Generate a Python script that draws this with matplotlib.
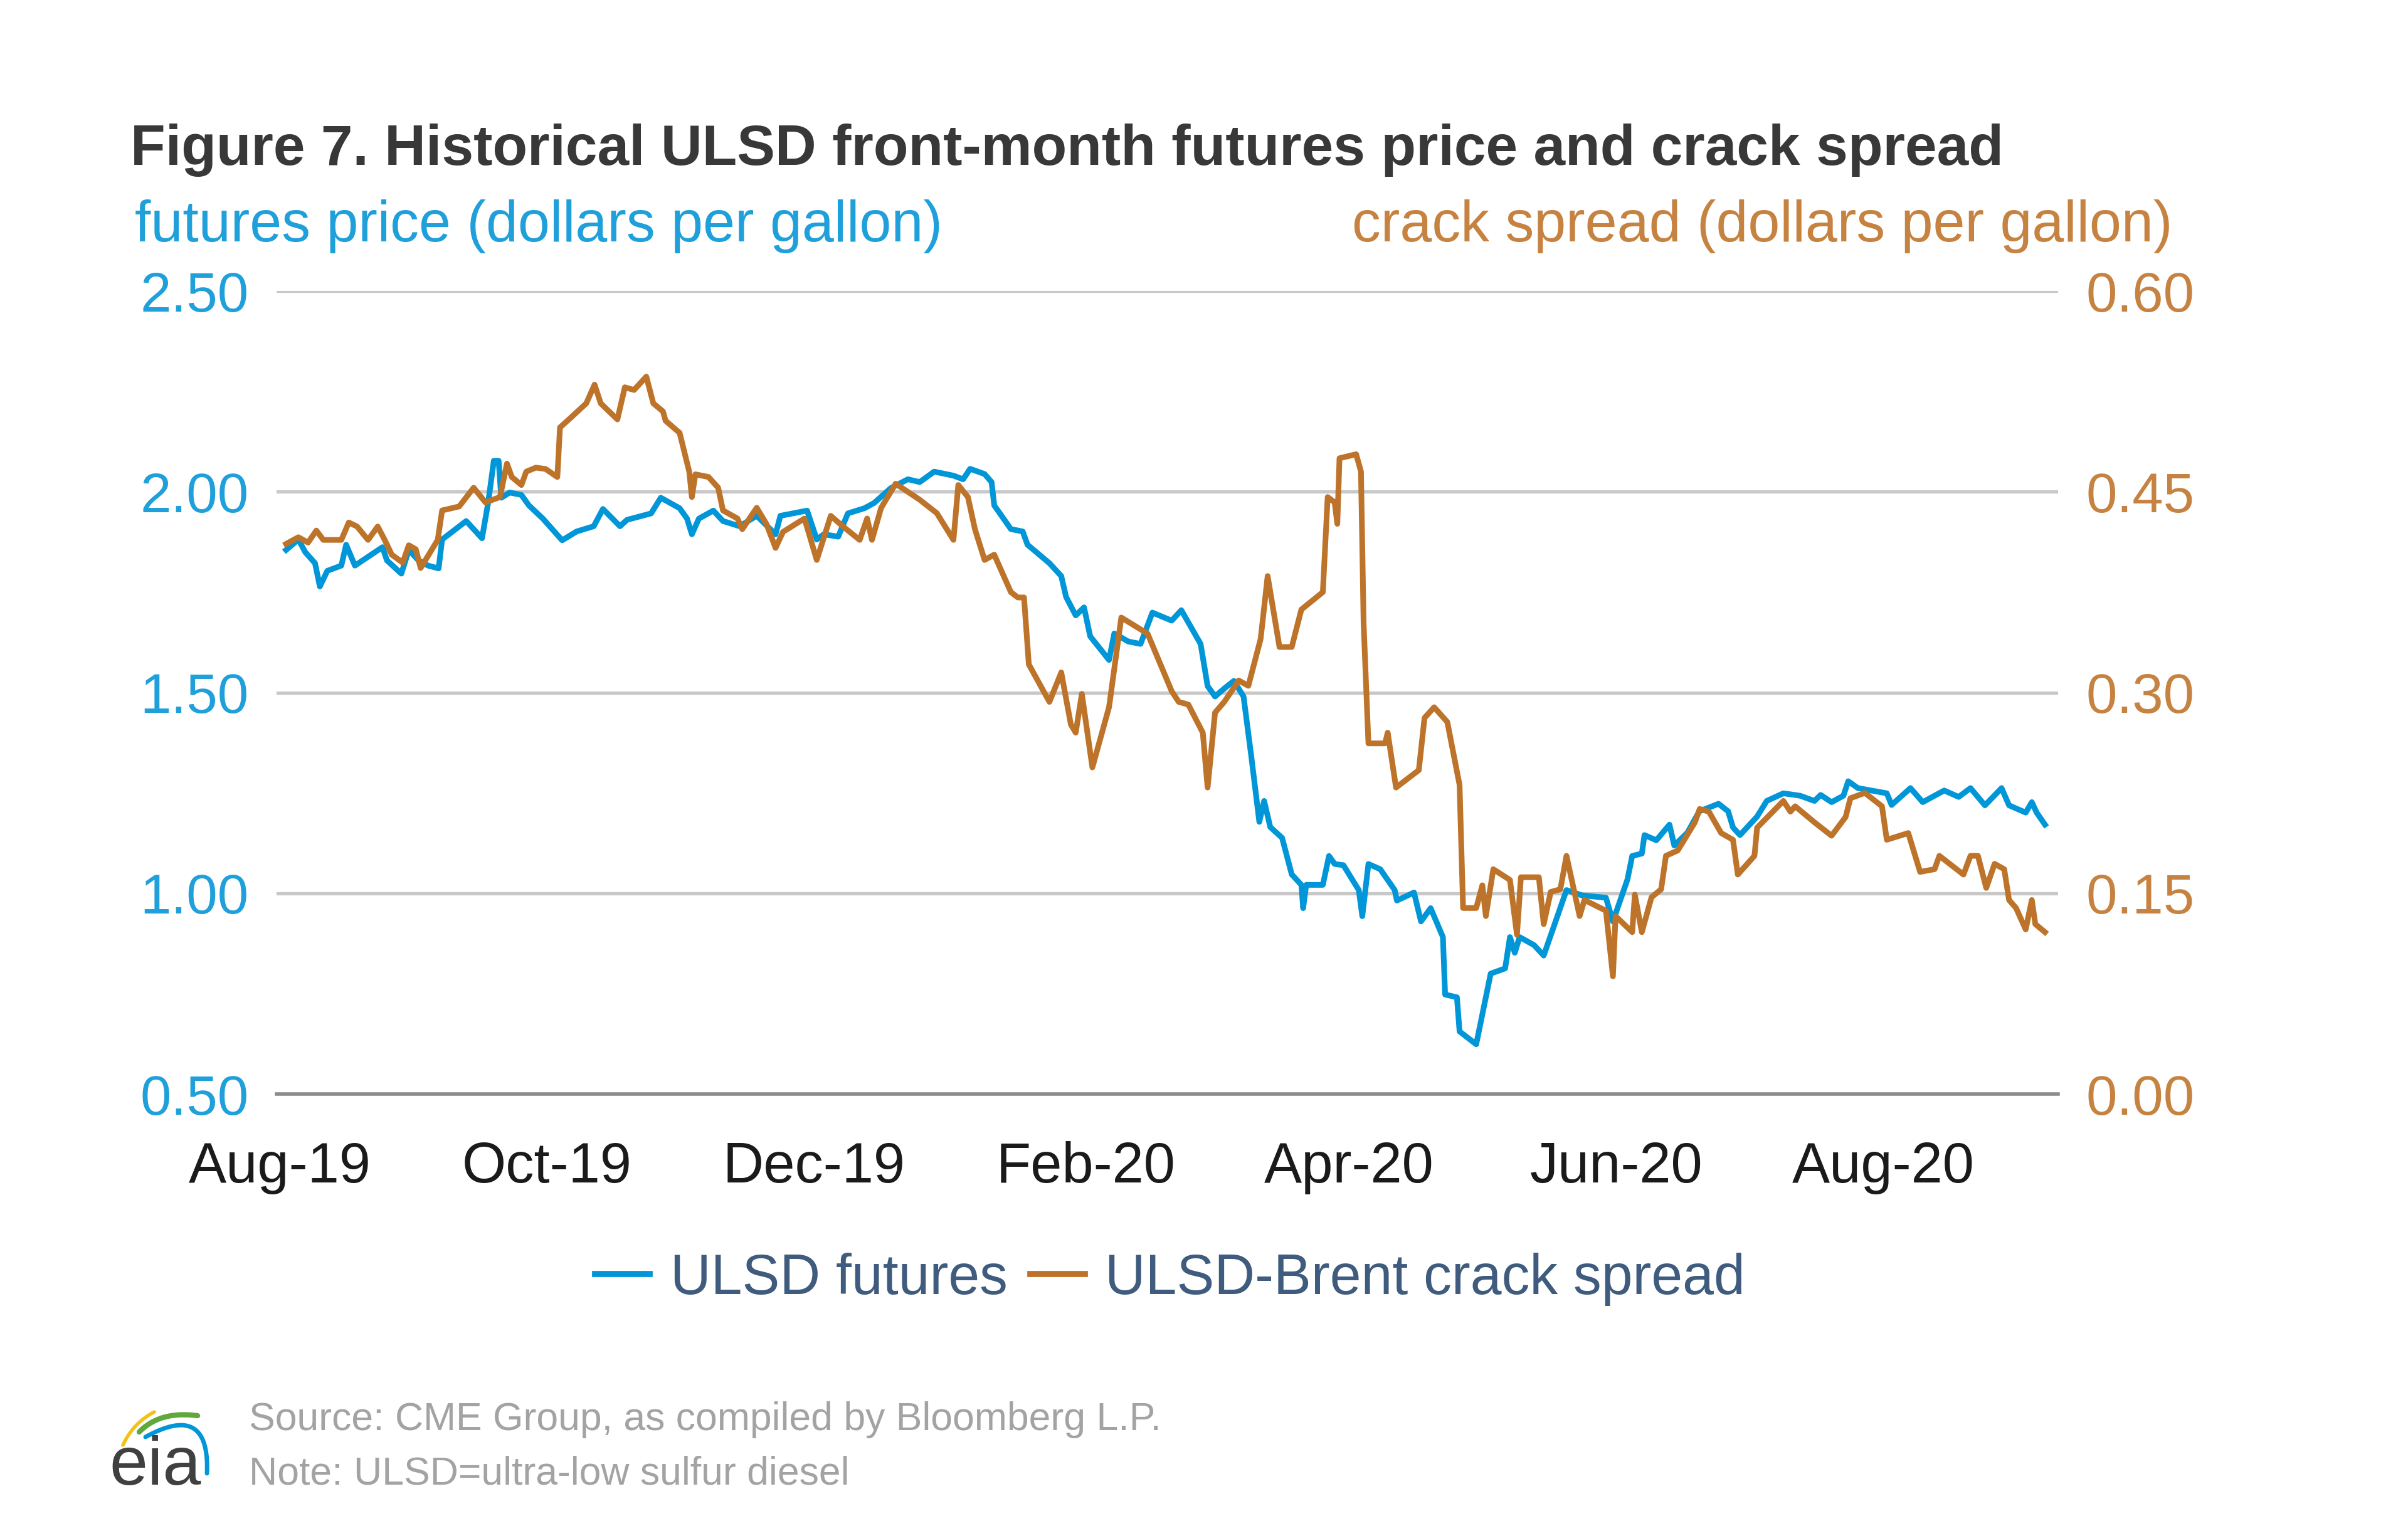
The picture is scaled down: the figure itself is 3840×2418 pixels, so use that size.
import numpy as np
import pandas as pd
import matplotlib
matplotlib.use('Agg')
import matplotlib.pyplot as plt
from matplotlib.lines import Line2D
from matplotlib.ticker import FormatStrFormatter

plt.rcParams['font.family'] = ['Liberation Sans', 'DejaVu Sans']

# days after 1 Aug 2019
futures_days = [1.5, 4.3, 5.9, 8.1, 9.2, 10.9, 14.1, 15.2, 17.2, 23.5, 24.5, 27.8, 29.5, 31.7,
                33.9, 36.3, 37.1, 42.6, 46.2, 47.6, 48.9, 50.0, 50.6, 52.5, 55.2, 56.9, 60.1,
                64.5, 67.8, 71.7, 73.8, 77.7, 79.3, 84.8, 87.0, 91.3, 93.0, 94.1, 95.7, 99.0,
                101.2, 105.0, 108.9, 113.2, 114.3, 120.4, 122.6, 124.2, 127.5, 129.7, 133.5,
                135.7, 139.5, 143.4, 146.1, 149.4, 153.8, 156.0, 157.6, 160.9, 162.5, 163.1,
                166.9, 169.6, 170.7, 175.7, 178.4, 179.5, 181.7, 183.6, 185.0, 189.3, 190.5,
                193.7, 196.5, 199.2, 203.6, 205.8, 210.2, 211.8, 213.5, 215.6, 217.8, 220.0,
                221.7, 223.6, 224.7, 226.1, 228.8, 231.0, 233.2, 233.6, 234.3, 238.1, 239.5,
                240.8, 242.8, 246.3, 247.1, 248.5, 251.2, 254.5, 255.0, 258.9, 260.5, 262.7,
                265.5, 266.0, 268.7, 269.3, 273.1, 276.4, 279.7, 280.8, 281.9, 283.0, 286.3,
                288.5, 293.7, 297.2, 302.7, 304.3, 307.6, 308.7, 310.9, 311.5, 314.2, 317.2,
                318.3, 321.3, 324.0, 328.4, 330.6, 331.7, 333.3, 337.2, 339.4, 343.2, 347.0,
                350.3, 351.7, 354.2, 356.9, 358.0, 360.2, 366.8, 367.9, 372.2, 375.0, 379.9,
                383.2, 385.9, 389.2, 393.0, 394.7, 398.5, 399.9, 401.0, 402.9]
futures_price = [1.855, 1.881, 1.849, 1.822, 1.764, 1.803, 1.816, 1.868, 1.816, 1.862, 1.829,
                 1.796, 1.855, 1.829, 1.816, 1.809, 1.881, 1.927, 1.884, 1.972, 2.077, 2.077,
                 1.985, 1.998, 1.992, 1.966, 1.933, 1.879, 1.901, 1.914, 1.957, 1.914, 1.930,
                 1.946, 1.985, 1.959, 1.933, 1.894, 1.933, 1.953, 1.927, 1.914, 1.940, 1.894,
                 1.940, 1.953, 1.881, 1.894, 1.888, 1.946, 1.959, 1.972, 2.009, 2.031, 2.024,
                 2.050, 2.040, 2.031, 2.057, 2.044, 2.024, 1.966, 1.907, 1.901, 1.868, 1.822,
                 1.790, 1.738, 1.692, 1.712, 1.640, 1.581, 1.647, 1.627, 1.621, 1.699, 1.679,
                 1.705, 1.621, 1.516, 1.490, 1.510, 1.529, 1.490, 1.347, 1.178, 1.230, 1.165,
                 1.138, 1.047, 1.021, 0.963, 1.021, 1.021, 1.093, 1.073, 1.070, 1.008, 0.943,
                 1.073, 1.060, 1.008, 0.982, 1.002, 0.930, 0.963, 0.891, 0.748, 0.741, 0.656,
                 0.624, 0.800, 0.813, 0.891, 0.852, 0.891, 0.871, 0.845, 1.008, 0.995, 0.989,
                 0.930, 1.034, 1.093, 1.099, 1.145, 1.132, 1.171, 1.119, 1.151, 1.204, 1.223,
                 1.204, 1.164, 1.145, 1.191, 1.230, 1.249, 1.243, 1.230, 1.245, 1.227, 1.243,
                 1.279, 1.262, 1.249, 1.220, 1.262, 1.227, 1.256, 1.240, 1.262, 1.219, 1.262,
                 1.219, 1.201, 1.227, 1.201, 1.171]

crack_days = [1.5, 4.3, 6.5, 8.4, 10.0, 14.1, 15.8, 17.7, 20.2, 22.4, 24.0, 25.6, 28.1, 29.5,
              31.1, 32.2, 36.1, 37.1, 41.0, 44.3, 47.0, 50.3, 51.9, 53.0, 55.2, 56.3, 58.5,
              60.7, 63.4, 64.0, 66.7, 70.0, 71.9, 73.3, 77.1, 78.8, 80.9, 83.7, 85.3, 87.5,
              88.1, 91.3, 93.5, 94.1, 94.9, 97.9, 100.1, 101.2, 104.5, 105.6, 108.9, 111.1,
              113.2, 114.9, 119.8, 122.6, 125.8, 128.6, 132.4, 134.1, 135.2, 137.3, 140.6,
              146.1, 150.0, 153.8, 154.9, 157.1, 158.7, 160.9, 163.1, 166.9, 168.5, 169.9,
              171.0, 175.7, 178.4, 180.6, 181.7, 183.1, 185.5, 189.3, 192.1, 198.1, 203.6,
              205.2, 207.4, 210.7, 211.8, 213.5, 215.6, 218.9, 221.1, 223.9, 225.5, 228.2,
              231.0, 233.2, 238.1, 239.2, 240.8, 241.4, 241.9, 245.7, 246.8, 247.4, 248.5,
              252.3, 252.9, 254.8, 260.0, 261.3, 263.5, 266.5, 269.3, 270.1, 273.1, 274.5,
              275.3, 277.0, 280.8, 282.4, 283.3, 287.4, 288.5, 290.1, 292.3, 293.7, 296.7,
              297.8, 302.7, 304.3, 304.9, 308.7, 309.3, 310.9, 313.1, 315.3, 316.4, 319.1,
              323.0, 324.1, 326.2, 329.0, 331.7, 332.8, 336.6, 337.2, 343.2, 344.8, 345.9,
              350.3, 354.2, 357.4, 358.5, 361.8, 365.7, 366.8, 371.7, 374.4, 377.7, 378.8,
              384.3, 385.9, 387.6, 389.5, 391.4, 393.6, 394.7, 396.3, 398.5, 399.9, 400.7,
              402.9]
crack_spread = [0.411, 0.416, 0.412, 0.421, 0.414, 0.414, 0.427, 0.424, 0.414, 0.424, 0.414,
                0.403, 0.397, 0.410, 0.407, 0.393, 0.414, 0.436, 0.439, 0.453, 0.442, 0.446,
                0.471, 0.461, 0.455, 0.465, 0.468, 0.467, 0.461, 0.498, 0.506, 0.516, 0.530,
                0.516, 0.504, 0.528, 0.526, 0.536, 0.516, 0.510, 0.503, 0.494, 0.465, 0.446,
                0.463, 0.461, 0.453, 0.436, 0.430, 0.422, 0.438, 0.426, 0.408, 0.420, 0.430,
                0.399, 0.432, 0.424, 0.414, 0.430, 0.414, 0.438, 0.456, 0.444, 0.434, 0.414,
                0.455, 0.446, 0.422, 0.399, 0.403, 0.375, 0.371, 0.371, 0.321, 0.293, 0.315,
                0.276, 0.270, 0.299, 0.244, 0.289, 0.356, 0.344, 0.301, 0.293, 0.291, 0.270,
                0.229, 0.285, 0.293, 0.309, 0.305, 0.340, 0.387, 0.334, 0.334, 0.362, 0.375,
                0.446, 0.442, 0.426, 0.475, 0.478, 0.465, 0.352, 0.262, 0.262, 0.270, 0.229,
                0.242, 0.281, 0.289, 0.278, 0.231, 0.139, 0.139, 0.156, 0.133, 0.168, 0.160,
                0.119, 0.162, 0.162, 0.127, 0.151, 0.153, 0.178, 0.133, 0.145, 0.137, 0.088,
                0.133, 0.121, 0.149, 0.121, 0.147, 0.153, 0.178, 0.182, 0.203, 0.213, 0.211,
                0.195, 0.190, 0.164, 0.178, 0.199, 0.219, 0.211, 0.215, 0.203, 0.193, 0.207,
                0.221, 0.225, 0.215, 0.190, 0.195, 0.166, 0.168, 0.178, 0.164, 0.178, 0.178,
                0.154, 0.172, 0.168, 0.145, 0.139, 0.123, 0.145, 0.127, 0.121]

tick_dates = ['2019-08-01', '2019-10-01', '2019-12-01', '2020-02-01', '2020-04-01',
              '2020-06-01', '2020-08-01']
tick_labels = ['Aug-19', 'Oct-19', 'Dec-19', 'Feb-20', 'Apr-20', 'Jun-20', 'Aug-20']
price_ticks = [0.5, 1.0, 1.5, 2.0, 2.5]
spread_ticks = [0.0, 0.15, 0.30, 0.45, 0.60]

BLUE = '#0096d7'
ORANGE = '#bd732a'

start = pd.Timestamp('2019-08-01')
fut_dates = start + pd.to_timedelta(futures_days, unit='D')
crk_dates = start + pd.to_timedelta(crack_days, unit='D')

fig = plt.figure(figsize=(38.4, 24.18), dpi=100)
ax = fig.add_axes([0.1148, 0.2783, 0.7399, 0.5298])
ax2 = ax.twinx()

ax.plot(fut_dates, futures_price, color=BLUE, lw=6.5, solid_joinstyle='round')
ax2.plot(crk_dates, crack_spread, color=ORANGE, lw=6.5, solid_joinstyle='round')

ax.set_ylim(0.5, 2.5)
ax.set_yticks(price_ticks)
ax2.set_ylim(0, 0.6)
ax2.set_yticks(spread_ticks)
ax.yaxis.set_major_formatter(FormatStrFormatter('%.2f'))
ax2.yaxis.set_major_formatter(FormatStrFormatter('%.2f'))

ax.set_xlim(start - pd.Timedelta(hours=17), start + pd.Timedelta(days=405.9))
ax.set_xticks(pd.to_datetime(tick_dates))
ax.set_xticklabels(tick_labels)

ax.grid(axis='y', color='#c8c8c8', lw=3.8)
ax.grid(axis='x', visible=False)
ax.set_axisbelow(True)
for a in (ax, ax2):
    for s in a.spines.values():
        s.set_visible(False)
ax.spines['bottom'].set_visible(True)
ax.spines['bottom'].set_color('#8c8c8c')
ax.spines['bottom'].set_linewidth(4)

ax.tick_params(axis='y', length=0, pad=32, labelsize=64, labelcolor='#1fa0da')
ax2.tick_params(axis='y', length=0, pad=32, labelsize=64, labelcolor='#c68240')
ax.tick_params(axis='x', length=0, pad=54, labelsize=65, labelcolor='#1a1a1a')

fig.text(0.0542, 0.9010, 'Figure 7. Historical ULSD front-month futures price and crack spread',
         ha='left', va='center', fontsize=65.6, fontweight='bold', color='#383838')
fig.text(0.056, 0.8505, 'futures price (dollars per gallon)', ha='left', va='center',
         fontsize=66, color='#1fa0da')
fig.text(0.9023, 0.8505, 'crack spread (dollars per gallon)', ha='right', va='center',
         fontsize=66, color='#c68240')

handles = [Line2D([], [], color=BLUE, lw=7), Line2D([], [], color=ORANGE, lw=7)]
leg = fig.legend(handles, ['ULSD futures', 'ULSD-Brent crack spread'], loc='center',
                 bbox_to_anchor=(0.486, 0.1563), ncol=2, frameon=False, fontsize=64.5,
                 handlelength=0.97, handletextpad=0.36, columnspacing=0.41)
for t in leg.get_texts():
    t.set_color('#3f5b7d')

fig.text(0.1034, 0.0633, 'Source: CME Group, as compiled by Bloomberg L.P.', ha='left',
         va='center', fontsize=45, color='#a3a3a3')
fig.text(0.1034, 0.0277, 'Note: ULSD=ultra-low sulfur diesel', ha='left', va='center',
         fontsize=45, color='#a3a3a3')

# eia logo
lg = fig.add_axes([0, 0, 1, 1], zorder=-1)
lg.set_xlim(0, 3840)
lg.set_ylim(2418, 0)
lg.axis('off')
lg.text(248, 2368, 'eia', ha='center', va='baseline', fontsize=79, color='#404040')
t = np.linspace(0, 1, 40)
bx = (1 - t) ** 2 * 232 + 2 * (1 - t) * t * 335 + t ** 2 * 330
by = (1 - t) ** 2 * 2292 + 2 * (1 - t) * t * 2235 + t ** 2 * 2350
lg.plot(bx, by, color=BLUE, lw=5, solid_capstyle='round')
gx = (1 - t) ** 2 * 222 + 2 * (1 - t) * t * 255 + t ** 2 * 315
gy = (1 - t) ** 2 * 2284 + 2 * (1 - t) * t * 2250 + t ** 2 * 2258
lg.plot(gx, gy, color='#5fa83c', lw=6, solid_capstyle='round')
yx = (1 - t) ** 2 * 196 + 2 * (1 - t) * t * 212 + t ** 2 * 246
yy = (1 - t) ** 2 * 2305 + 2 * (1 - t) * t * 2270 + t ** 2 * 2252
lg.plot(yx, yy, color='#f5c116', lw=4, solid_capstyle='round')

fig.savefig('out.png', dpi=100)
